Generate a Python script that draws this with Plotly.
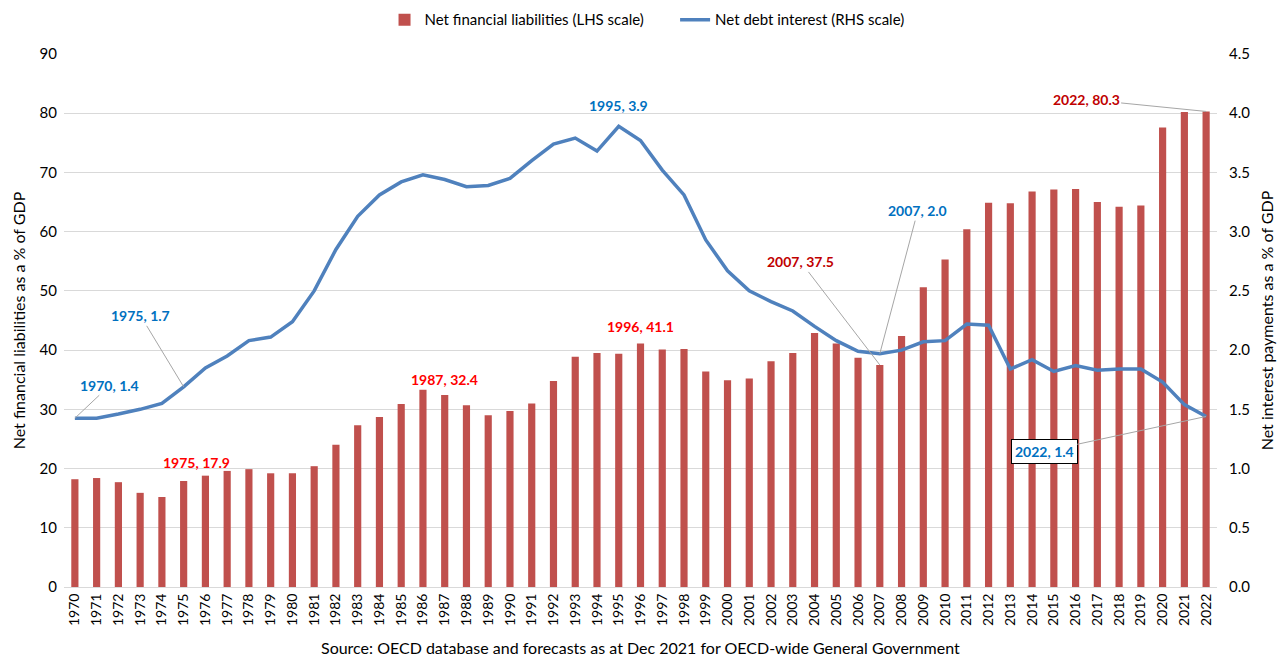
import plotly.graph_objects as go

years = [str(y) for y in range(1970, 2023)]
net_fin_liab = [18.2, 18.4, 17.7, 15.9, 15.2, 17.9, 18.8, 19.6, 19.9, 19.2,
                19.2, 20.4, 24.0, 27.3, 28.7, 30.9, 33.3, 32.4, 30.7, 29.0,
                29.7, 31.0, 34.8, 38.9, 39.5, 39.4, 41.1, 40.1, 40.2, 36.4,
                34.9, 35.2, 38.1, 39.5, 42.9, 41.1, 38.7, 37.5, 42.4, 50.6,
                55.3, 60.4, 64.9, 64.8, 66.8, 67.1, 67.2, 65.0, 64.2, 64.4,
                77.6, 80.2, 80.3]
net_interest = [1.425, 1.425, 1.46, 1.50, 1.55, 1.69, 1.85, 1.95, 2.08, 2.11,
                2.24, 2.50, 2.85, 3.13, 3.31, 3.42, 3.48, 3.44, 3.38, 3.39,
                3.45, 3.60, 3.74, 3.79, 3.68, 3.89, 3.77, 3.52, 3.31, 2.93,
                2.67, 2.50, 2.41, 2.33, 2.20, 2.08, 1.99, 1.97, 2.00, 2.07,
                2.08, 2.22, 2.21, 1.84, 1.92, 1.82, 1.87, 1.83, 1.84, 1.84,
                1.73, 1.54, 1.44]

BAR = "#C0504D"
LINE = "#4F81BD"
BLUE_TXT = "#0070C0"
RED_TXT = "#FF0000"
DRED_TXT = "#C00000"
FONT = "Lato"

def idx(y):
    return years.index(str(y))

fig = go.Figure()
fig.add_trace(go.Bar(x=years, y=net_fin_liab, name="Net financial liabilities (LHS scale)",
                     marker=dict(color=BAR, line=dict(width=0)), width=0.33,
                     legend="legend", showlegend=True))
fig.add_trace(go.Scatter(x=years, y=net_interest, name="Net debt interest (RHS scale)",
                         mode="lines", line=dict(color=LINE, width=3.5), yaxis="y2",
                         legend="legend2", showlegend=True))

ann = []
def afont(c):
    return dict(family=FONT, size=14, color=c, weight="bold")

# line annotations with leaders
for yr, txt, ax, ay in [(1970, "1970, 1.4", 35, -33), (1975, "1975, 1.7", -43, -71),
                        (2007, "2007, 2.0", 38, -143)]:
    ann.append(dict(x=idx(yr), y=net_interest[idx(yr)], xref="x", yref="y2", text=txt,
                    showarrow=True, arrowhead=0, arrowwidth=1, arrowcolor="#A6A6A6",
                    ax=ax, ay=ay, font=afont(BLUE_TXT)))
ann.append(dict(x=idx(2022), y=net_interest[idx(2022)], xref="x", yref="y2", text="2022, 1.4",
                showarrow=True, arrowhead=0, arrowwidth=1, arrowcolor="#A6A6A6",
                ax=-162, ay=35, font=afont(BLUE_TXT), bgcolor="white",
                bordercolor="black", borderwidth=1, borderpad=3))
ann.append(dict(x=idx(1995), y=net_interest[idx(1995)], xref="x", yref="y2", text="1995, 3.9",
                showarrow=False, yshift=21, font=afont(BLUE_TXT)))
# bar annotations
for yr, txt, xs, ys in [(1975, "1975, 17.9", 13, 18), (1987, "1987, 32.4", 0, 16),
                        (1996, "1996, 41.1", 0, 17)]:
    ann.append(dict(x=idx(yr), y=net_fin_liab[idx(yr)], xref="x", yref="y", text=txt,
                    showarrow=False, xshift=xs, yshift=ys, font=afont(RED_TXT)))
for yr, txt, ax, ay in [(2007, "2007, 37.5", -79, -103), (2022, "2022, 80.3", -120, -12)]:
    ann.append(dict(x=idx(yr), y=net_fin_liab[idx(yr)], xref="x", yref="y", text=txt,
                    showarrow=True, arrowhead=0, arrowwidth=1, arrowcolor="#A6A6A6",
                    ax=ax, ay=ay, font=afont(DRED_TXT)))
ann.append(dict(x=0.5, y=-0.1126, xref="paper", yref="paper", yanchor="middle",
                text="Source: OECD database and forecasts as at Dec 2021 for OECD-wide General Government",
                showarrow=False, font=dict(family=FONT, size=16, color="#000000")))

fig.update_layout(
    width=1280, height=649,
    showlegend=True,
    margin=dict(l=56, r=71, t=46, b=70, autoexpand=False),
    paper_bgcolor="white", plot_bgcolor="white",
    font=dict(family=FONT, size=15, color="#000000"),
    legend=dict(orientation="h", x=0.278, xanchor="left", y=1.064, yanchor="middle",
                font=dict(family=FONT, size=15), visible=True),
    legend2=dict(orientation="h", x=0.530, xanchor="left", y=1.064, yanchor="middle",
                 font=dict(family=FONT, size=15), visible=True),
    xaxis=dict(type="category", tickangle=-90, showgrid=False, showline=True,
               linecolor="#D9D9D9", linewidth=1, ticks="", tickfont=dict(size=14),
               range=[-0.5, len(years) - 0.5]),
    yaxis=dict(range=[0, 90], dtick=10, showgrid=True, gridcolor="#D9D9D9", gridwidth=1,
               zeroline=False, ticks="", ticklabelstandoff=6,
               title=dict(text="Net financial liabilities as a % of GDP", standoff=9,
                          font=dict(size=16)),
               tickfont=dict(size=15)),
    yaxis2=dict(range=[0, 4.5], dtick=0.5, tickformat=".1f", overlaying="y", side="right",
                showgrid=False, zeroline=False, ticks="", ticklabelstandoff=11,
                title=dict(text="Net interest payments as a % of GDP", standoff=12,
                           font=dict(size=16)),
                tickfont=dict(size=15)),
    annotations=ann,
)

fig.write_html("out.html")
